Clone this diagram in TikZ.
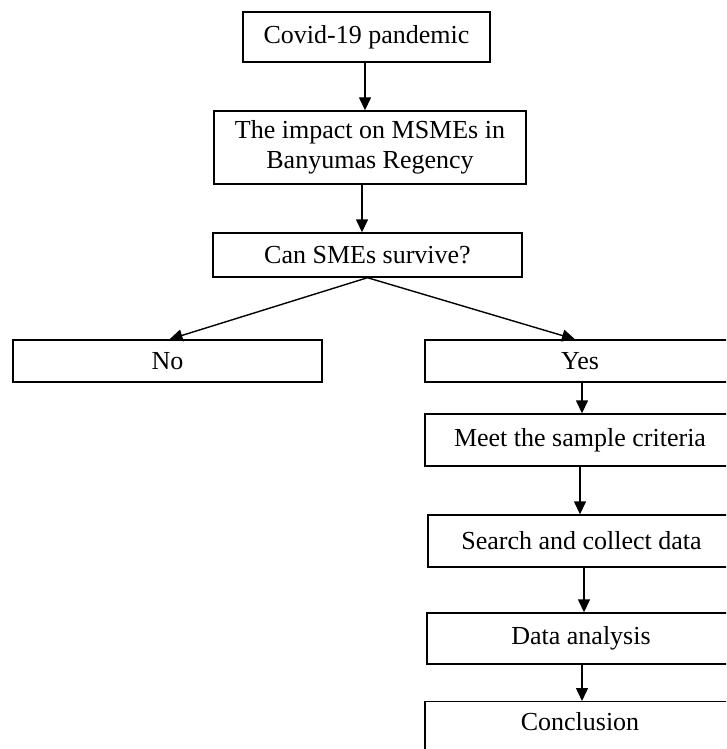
\documentclass[tikz,border=0pt]{standalone}
\usepackage{fontspec}
\setmainfont{Liberation Serif}
\usetikzlibrary{arrows.meta}
\begin{document}
\begin{tikzpicture}[x=1pt,y=-1pt,
  box/.style={draw=black,line width=1.4pt,rectangle,inner sep=0pt,align=center,
    font=\fontsize{26pt}{30pt}\selectfont,text=black},
  arr/.style={draw=black,line width=1.4pt,-{Triangle[length=13pt,width=12pt]}}]
\useasboundingbox (0,0) rectangle (726,749);
\clip (0,0) rectangle (726,749);
\node[box,minimum width=247pt,minimum height=50pt] (covid) at (366.5,37) {Covid-19 pandemic};
\node[box,minimum width=312pt,minimum height=73pt] (impact) at (370,147.5) {The impact on MSMEs in\\Banyumas Regency};
\node[box,minimum width=309pt,minimum height=44pt] (can) at (367.5,255) {Can SMEs survive?};
\node[box,minimum width=309pt,minimum height=42pt] (no) at (167.5,361) {No};
\node[box,minimum width=310pt,minimum height=42pt] (yes) at (580,361) {Yes};
\node[box,minimum width=310pt,minimum height=52pt] (meet) at (580,440) {Meet the sample criteria};
\node[box,minimum width=307pt,minimum height=52pt] (search) at (581.5,541) {Search and collect data};
\node[box,minimum width=308pt,minimum height=51pt] (data) at (581,638.5) {Data analysis};
\node[box,minimum width=310pt,anchor=north,text height=29pt,text depth=30pt] (concl) at (580,701) {Conclusion};
\draw[arr] ([xshift=-1.5pt]covid.south) -- ([xshift=-1.5pt]covid.south |- impact.north);
\draw[arr] ([xshift=-8pt]impact.south) -- ([xshift=-8pt]impact.south |- can.north);
\draw[arr] (can.south) -- ([xshift=2pt]no.north);
\draw[arr] (can.south) -- ([xshift=-5pt]yes.north);
\draw[arr] ([xshift=2pt]yes.south) -- ([xshift=2pt]yes.south |- meet.north);
\draw[arr] (meet.south) -- (meet.south |- search.north);
\draw[arr] ([xshift=2.5pt]search.south) -- ([xshift=2.5pt]search.south |- data.north);
\draw[arr] ([xshift=1pt]data.south) -- ([xshift=1pt]data.south |- concl.north);
\end{tikzpicture}
\end{document}
